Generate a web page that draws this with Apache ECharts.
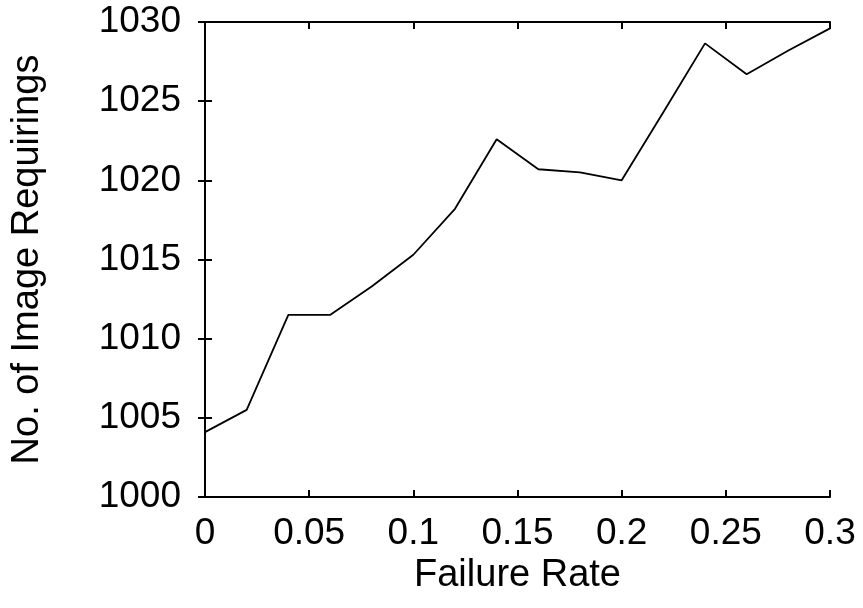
<!DOCTYPE html>
<html>
<head>
<meta charset="utf-8">
<script src="https://cdn.jsdelivr.net/npm/echarts@6/dist/echarts.min.js"></script>
<style>
html, body { margin: 0; padding: 0; background: #fff; }
#chart { width: 863px; height: 608px; }
</style>
</head>
<body>
<div id="chart"></div>
<script>
// failure rate vs. number of image requirings
var failureRate = [0, 0.02, 0.04, 0.06, 0.08, 0.1, 0.12, 0.14, 0.16, 0.18, 0.2, 0.22, 0.24, 0.26, 0.28, 0.3];
var requirings = [1004.1, 1005.5, 1011.5, 1011.5, 1013.3, 1015.3, 1018.2, 1022.6, 1020.7, 1020.5, 1020.0, 1024.3, 1028.65, 1026.7, 1028.2, 1029.6];
var xTicks = [0, 0.05, 0.1, 0.15, 0.2, 0.25, 0.3];
var yTicks = [1000, 1005, 1010, 1015, 1020, 1025, 1030];

var font = '"Liberation Sans", Arial, sans-serif';
var points = [];
for (var i = 0; i < failureRate.length; i++) {
    points.push([failureRate[i], requirings[i]]);
}

var lineStyle = { color: '#000', width: 2 };
var tickStyle = { show: true, inside: true, length: 7, lineStyle: { color: '#000', width: 2 } };

var option = {
    animation: false,
    backgroundColor: '#fff',
    grid: {
        left: 205,
        right: 33,
        top: 22,
        bottom: 111
    },
    xAxis: [{
        type: 'value',
        min: xTicks[0],
        max: xTicks[xTicks.length - 1],
        interval: 0.05,
        name: 'Failure Rate',
        nameLocation: 'middle',
        nameGap: 60,
        nameTextStyle: { fontFamily: font, fontSize: 38, color: '#000' },
        axisLine: { show: true, lineStyle: lineStyle },
        axisTick: tickStyle,
        splitLine: { show: false },
        axisLabel: {
            margin: 18,
            fontFamily: font,
            fontSize: 37,
            color: '#000',
            formatter: function (v) {
                return String(parseFloat(v.toFixed(2)));
            }
        }
    }, {
        type: 'value',
        position: 'top',
        min: xTicks[0],
        max: xTicks[xTicks.length - 1],
        interval: 0.05,
        axisLine: { show: true, lineStyle: lineStyle },
        axisTick: tickStyle,
        axisLabel: { show: false },
        splitLine: { show: false }
    }],
    yAxis: [{
        type: 'value',
        min: yTicks[0],
        max: yTicks[yTicks.length - 1],
        interval: 5,
        name: 'No. of Image Requirings',
        nameLocation: 'middle',
        nameGap: 158,
        nameTextStyle: { fontFamily: font, fontSize: 38, color: '#000' },
        axisLine: { show: true, lineStyle: lineStyle },
        axisTick: tickStyle,
        splitLine: { show: false },
        axisLabel: {
            margin: 24,
            fontFamily: font,
            fontSize: 37,
            color: '#000',
            formatter: function (v) {
                return String(v);
            }
        }
    }, {
        type: 'value',
        position: 'right',
        min: yTicks[0],
        max: yTicks[yTicks.length - 1],
        interval: 5,
        axisLine: { show: true, lineStyle: lineStyle },
        axisTick: tickStyle,
        axisLabel: { show: false },
        splitLine: { show: false }
    }],
    series: [{
        type: 'line',
        data: points,
        showSymbol: false,
        symbol: 'none',
        lineStyle: { color: '#000', width: 1.8 },
        itemStyle: { color: '#000' }
    }]
};

var myChart = echarts.init(document.getElementById('chart'));
myChart.setOption(option);
</script>
</body>
</html>
